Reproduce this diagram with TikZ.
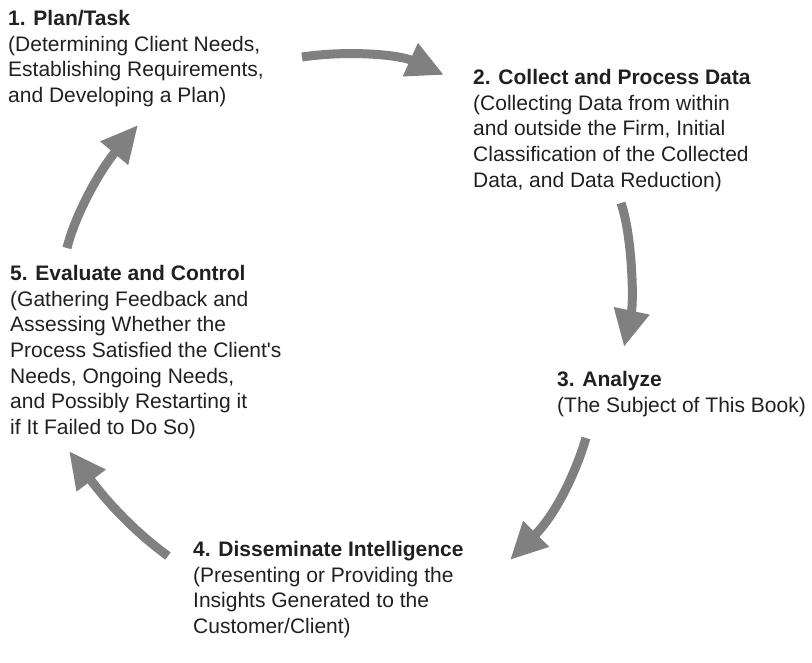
\documentclass[tikz,border=0pt]{standalone}
\usepackage{fontspec}
\setmainfont{Liberation Sans}
\usetikzlibrary{arrows.meta}
\definecolor{ink}{RGB}{35,31,32}
\definecolor{flow}{RGB}{128,128,128}
\begin{document}
\begin{tikzpicture}[x=1pt,y=-1pt,
  stage/.style={anchor=north west,inner sep=0pt,align=left,text=ink,
    font=\fontsize{21}{25.7}\selectfont},
  cycle/.style={draw=flow,line width=9pt,
    -{Triangle[length=37pt,width=34pt]}}]
\useasboundingbox (0,0) rectangle (812,663);

% the five stages of the cycle
\node[stage] (plan) at (8,10)
  {\textbf{1. Plan/Task}\\(Determining Client Needs,\\Establishing Requirements,\\and Developing a Plan)};
\node[stage] (collect) at (473,69)
  {\textbf{2. Collect and Process Data}\\(Collecting Data from within\\and outside the Firm, Initial\\Classification of the Collected\\Data, and Data Reduction)};
\node[stage] (analyze) at (557,371)
  {\textbf{3. Analyze}\\(The Subject of This Book)};
\node[stage] (dissem) at (193,541)
  {\textbf{4. Disseminate Intelligence}\\(Presenting or Providing the\\Insights Generated to the\\Customer/Client)};
\node[stage] (evaluate) at (10,265)
  {\textbf{5. Evaluate and Control}\\(Gathering Feedback and\\Assessing Whether the\\Process Satisfied the Client\textquotesingle s\\Needs, Ongoing Needs,\\and Possibly Restarting it\\if It Failed to Do So)};

% end points of the curved arrows between the stages
\coordinate (s1) at (302,57);  \coordinate (e1) at (444,75);
\coordinate (s2) at (621,203); \coordinate (e2) at (624,347);
\coordinate (s3) at (586,438); \coordinate (e3) at (510,560);
\coordinate (s4) at (168,556); \coordinate (e4) at (69,451);
\coordinate (s5) at (67,248);  \coordinate (e5) at (138,125);

\draw[cycle] (s1) .. controls (350,50) and (400,55) .. (e1);
\draw[cycle] (s2) .. controls (632,235) and (634,300) .. (e2);
\draw[cycle] (s3) .. controls (575,475) and (555,515) .. (e3);
\draw[cycle] (s4) .. controls (135,532) and (108,503) .. (e4);
\draw[cycle] (s5) .. controls (75,215) and (100,170) .. (e5);
\end{tikzpicture}
\end{document}
